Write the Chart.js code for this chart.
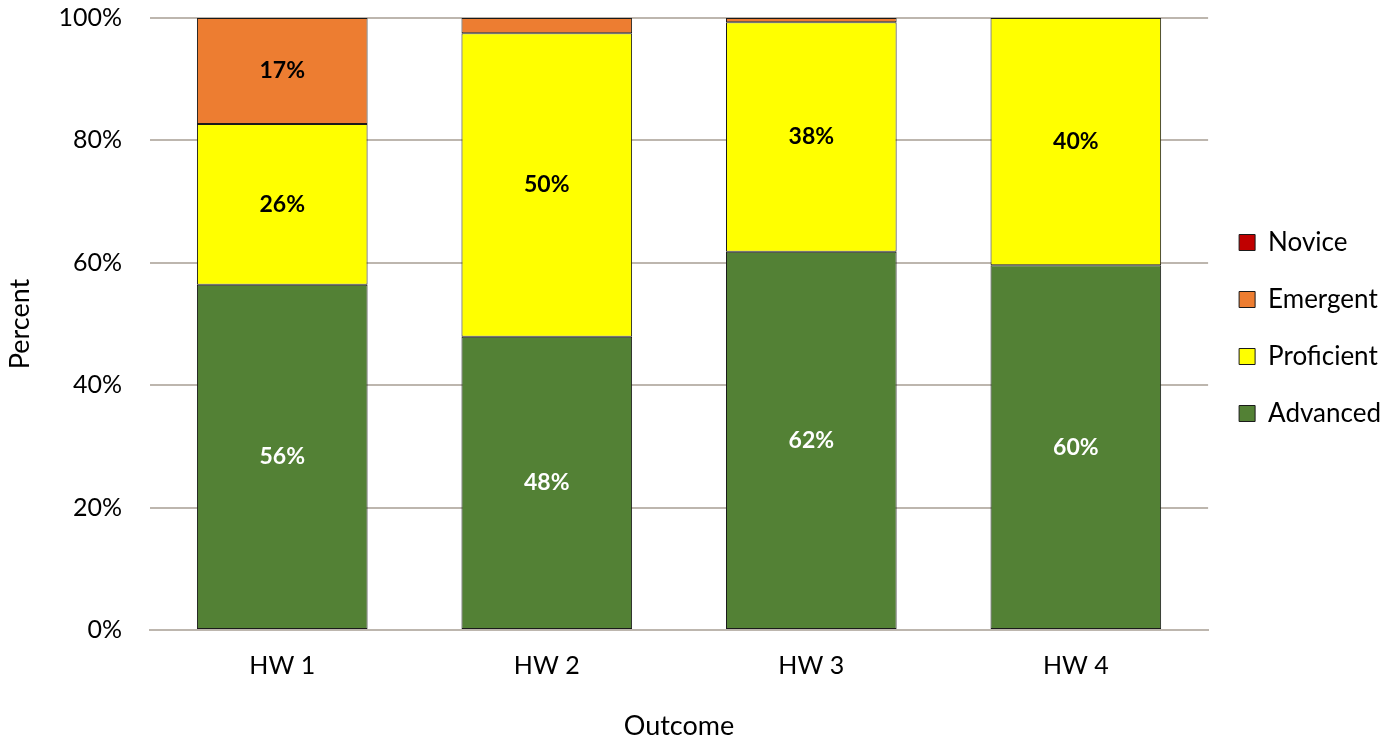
<!DOCTYPE html>
<html>
<head>
<meta charset="utf-8">
<script src="https://cdn.jsdelivr.net/npm/chart.js@4"></script>
<style>
html,body{margin:0;padding:0;background:#fff;overflow:hidden;}
#wrap{width:1398px;height:742px;position:relative;}
</style>
</head>
<body>
<div id="wrap"><canvas id="c"></canvas></div>
<script>
const categories = ["HW 1", "HW 2", "HW 3", "HW 4"];
const advanced   = [56.4, 47.9, 61.8, 59.6];
const proficient = [26.3, 49.6, 37.5, 40.4];
const emergent   = [17.3, 2.5, 0.7, 0];
const novice     = [0, 0, 0, 0];
const yTicks = [0, 20, 40, 60, 80, 100];

const FONT = "Lato, 'Open Sans', sans-serif";

const labelPlugin = {
  id: 'segLabels',
  afterDatasetsDraw(chart) {
    const ctx = chart.ctx;
    ctx.save();
    ctx.font = "bold 23px " + FONT;
    ctx.textAlign = 'center';
    ctx.textBaseline = 'middle';
    chart.data.datasets.forEach((ds, i) => {
      const meta = chart.getDatasetMeta(i);
      meta.data.forEach((bar, j) => {
        const v = ds.data[j];
        if (v < 5) return;
        const cy = (bar.y + bar.base) / 2;
        ctx.fillStyle = ds.labelColor;
        ctx.fillText(Math.round(v) + '%', bar.x, cy);
      });
    });
    ctx.restore();
  }
};

new Chart(document.getElementById('c'), {
  type: 'bar',
  data: {
    labels: categories,
    datasets: [
      {label: 'Advanced', data: advanced, backgroundColor: '#538135', labelColor: '#ffffff'},
      {label: 'Proficient', data: proficient, backgroundColor: '#FFFF00', labelColor: '#000000'},
      {label: 'Emergent', data: emergent, backgroundColor: '#ED7D31', labelColor: '#000000'},
      {label: 'Novice', data: novice, backgroundColor: '#C00000', labelColor: '#000000'}
    ].map(d => Object.assign(d, {borderColor: '#1a1a1a', borderWidth: 1, borderSkipped: false, categoryPercentage: 0.645, barPercentage: 1}))
  },
  options: {
    responsive: true,
    maintainAspectRatio: false,
    animation: false,
    layout: {padding: {top: 0, right: 7, left: 0, bottom: 0}},
    plugins: {
      legend: {
        position: 'right',
        fullSize: false,
        reverse: true,
        title: {display: true, text: ' ', color: '#000', font: {size: 5}, padding: 1},
        labels: {
          font: {family: FONT, size: 26},
          color: '#000000',
          boxWidth: 16,
          boxHeight: 16,
          padding: 31,
          generateLabels(chart) {
            return chart.data.datasets.map((ds, i) => ({
              text: ds.label,
              fillStyle: ds.backgroundColor,
              strokeStyle: '#1a1a1a',
              fontColor: '#000000',
              lineWidth: 1,
              datasetIndex: i,
              hidden: false
            }));
          }
        }
      },
      tooltip: {enabled: false}
    },
    scales: {
      x: {
        stacked: true,
        grid: {display: false},
        border: {color: '#BDB6AE', width: 2},
        ticks: {font: {family: FONT, size: 25}, color: '#000', padding: 13},
        title: {display: true, text: 'Outcome', font: {family: FONT, size: 27}, color: '#000', padding: {top: 29, bottom: 0}},
        afterFit(scale) { scale.height = 112; }
      },
      y: {
        stacked: true,
        min: 0, max: 100,
        afterBuildTicks(axis) { axis.ticks = yTicks.map(v => ({value: v})); },
        grid: {color: '#BDB6AE', lineWidth: 2, drawTicks: true, tickLength: 0},
        border: {display: false},
        ticks: {font: {family: FONT, size: 25}, color: '#000', padding: 28, callback: v => v + '%'},
        title: {display: true, text: 'Percent', font: {family: FONT, size: 27}, color: '#000', padding: {top: 4, bottom: 24}},
        afterFit(scale) { scale.width = 150; scale.paddingTop = 18; scale.paddingBottom = 0; }
      }
    }
  },
  plugins: [labelPlugin]
});
</script>
</body>
</html>
